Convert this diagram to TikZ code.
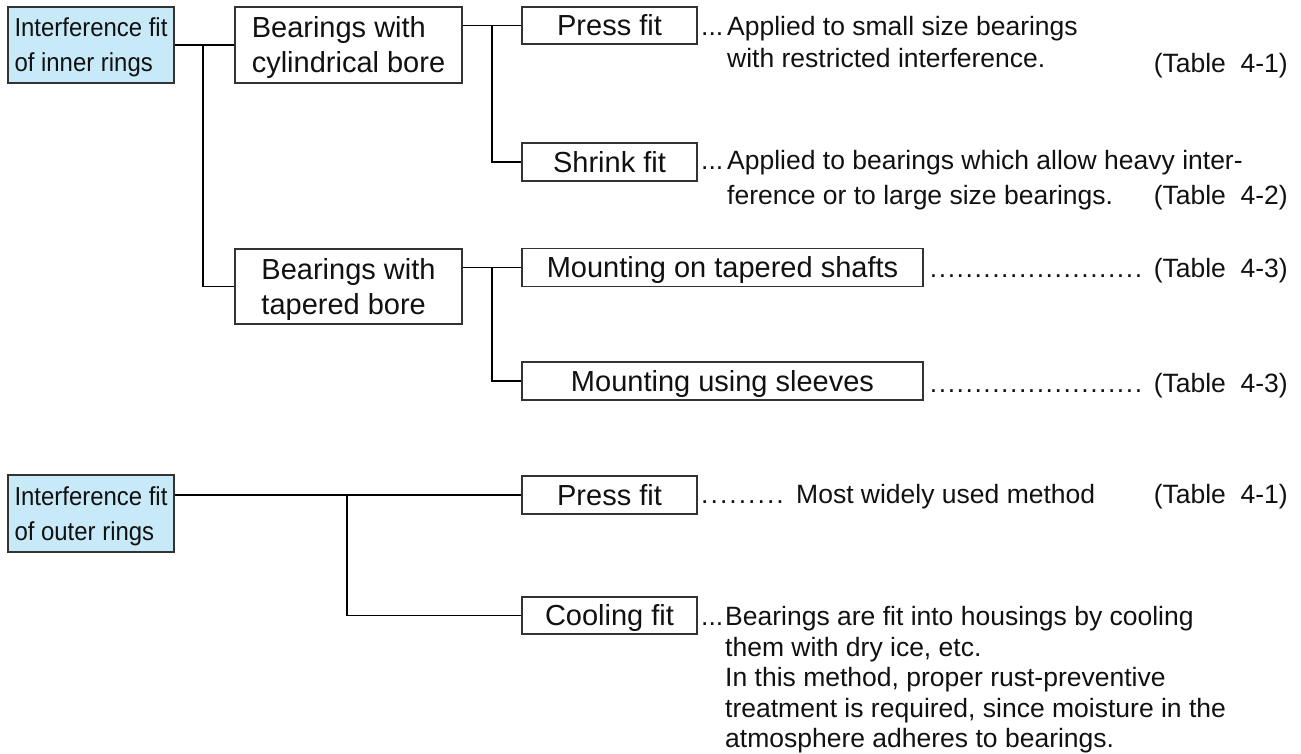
\documentclass[tikz,border=0pt]{standalone}
\usepackage{fontspec}
\setmainfont{Liberation Sans}
\newfontfamily\condfont[FakeStretch=0.92]{Liberation Sans}
\definecolor{headfill}{HTML}{C8EAF8}
\definecolor{boxc}{HTML}{333333}
\definecolor{txt}{HTML}{111111}
\newcommand\boxfont{\fontsize{29}{35}\selectfont}
\newcommand\descfont{\fontsize{26.5}{33}\selectfont}
\newcommand\headfont{\condfont\fontsize{26}{35}\selectfont}
\newcommand\dotrow[2]{\hbox{\count255=0 \loop\ifnum\count255<#1 \hbox to #2{\hss.\hss}\advance\count255 by 1 \repeat}}
\newcommand\tallstrut[1]{\rule{0pt}{#1}}
\tikzset{
  box/.style={draw=boxc, line width=1.3pt, fill=white, inner sep=0pt, text=txt, font=\boxfont},
  sbox/.style={box, text height=20.8pt, text depth=0pt},
  head/.style={box, fill=headfill, font=\headfont, align=left, minimum width=166pt, minimum height=76pt},
  lbl/.style={anchor=base west, inner sep=0pt, font=\descfont, text=txt},
  tbl/.style={anchor=base east, inner sep=0pt, font=\descfont, text=txt},
  conn/.style={line width=1.3pt, draw=black},
}
\begin{document}
\begin{tikzpicture}[x=1pt,y=-1pt]
\useasboundingbox (0,0) rectangle (1301,754);
% boxes
\node[head] (inner) at (91,45) {\tallstrut{24pt}Interference fit\\of inner rings};
\node[box, align=left, minimum width=227pt, minimum height=76pt] (cyl) at (348.5,45) {\tallstrut{27pt}Bearings with\\cylindrical bore};
\node[box, align=left, minimum width=227pt, minimum height=75pt] (tap) at (348.5,286.5) {\tallstrut{27pt}Bearings with\\tapered bore};
\node[sbox, minimum width=175pt, minimum height=37pt] (press1) at (609.5,25.5) {Press fit};
\node[sbox, minimum width=175pt, minimum height=38pt] (shrink) at (609.5,162) {Shrink fit};
\node[sbox, minimum width=401pt, minimum height=38pt] (mshaft) at (722.5,267.5) {Mounting on tapered shafts};
\node[sbox, minimum width=401pt, minimum height=38pt] (msleeve) at (722.5,381) {Mounting using sleeves};
\node[head, minimum height=77pt] (outer) at (91,513.5) {\tallstrut{24pt}Interference fit\\of outer rings};
\node[sbox, minimum width=175pt, minimum height=38pt] (press2) at (609.5,495) {Press fit};
\node[sbox, minimum width=175pt, minimum height=37pt] (cool) at (609.5,615.5) {Cooling fit};
% connectors
\coordinate (j1) at (203,45);
\draw[conn] (inner.east) -- (cyl.west);
\draw[conn] (j1) |- (tap.west);
\coordinate (j2) at (492,25.5);
\draw[conn] (press1.west -| cyl.east) -- (press1.west);
\draw[conn] (j2) |- (shrink.west);
\coordinate (j3) at (492,267.5);
\draw[conn] (mshaft.west -| tap.east) -- (mshaft.west);
\draw[conn] (j3) |- (msleeve.west);
\coordinate (j4) at (347,495);
\draw[conn] (press2.west -| outer.east) -- (press2.west);
\draw[conn] (j4) |- (cool.west);
% descriptions
\node[lbl] (d1a) at (701,36) {...};
\node[lbl] (d1b) at (727,36) {Applied to small size bearings};
\node[lbl] (d1c) at (727,68) {with restricted interference.};
\node[tbl] (t1) at (1288,73) {(Table\ \ 4-1)};
\node[lbl] (d2a) at (701,170) {...};
\node[lbl] (d2b) at (727,170) {Applied to bearings which allow heavy inter-};
\node[lbl] (d2c) at (727,205) {ference or to large size bearings.};
\node[tbl] (t2) at (1288,205) {(Table\ \ 4-2)};
\node[lbl] (d3) at (929,277) {\dotrow{24}{8.9pt}};
\node[tbl] (t3) at (1288,277) {(Table\ \ 4-3)};
\node[lbl] (d4) at (929,392) {\dotrow{24}{8.9pt}};
\node[tbl] (t4) at (1288,392) {(Table\ \ 4-3)};
\node[lbl] (d5a) at (700,503) {\dotrow{9}{9.4pt}};
\node[lbl] (d5b) at (796,503) {Most widely used method};
\node[tbl] (t5) at (1288,503) {(Table\ \ 4-1)};
\node[lbl] (d6a) at (701,625.5) {...};
\node[lbl] (d6b) at (725,625.5) {Bearings are fit into housings by cooling};
\node[lbl] (d6c) at (725,656) {them with dry ice, etc.};
\node[lbl] (d6d) at (725,686.5) {In this method, proper rust-preventive};
\node[lbl] (d6e) at (725,717) {treatment is required, since moisture in the};
\node[lbl] (d6f) at (725,747.5) {atmosphere adheres to bearings.};
\end{tikzpicture}
\end{document}
